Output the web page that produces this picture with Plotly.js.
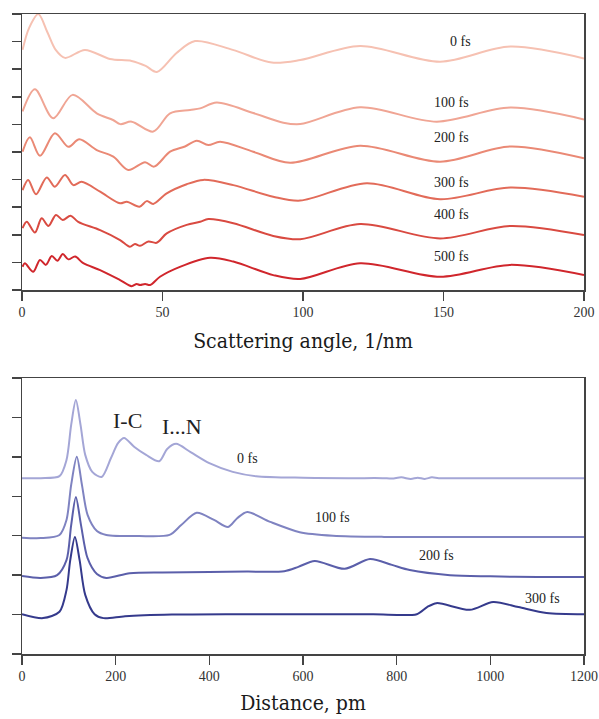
<!DOCTYPE html>
<html>
<head>
<meta charset="utf-8">
<script src="https://cdn.plot.ly/plotly-3.0.1.min.js"></script>
<style>html,body{margin:0;padding:0;background:#fff;}#chart{width:599px;height:719px;}</style>
</head>
<body>
<div id="chart"></div>
<script>
// ---------- Top panel: scattering signal vs angle ----------
const topLabels = ["0 fs", "100 fs", "200 fs", "300 fs", "400 fs", "500 fs"];
const topColors = ["#f6c1b2", "#f0a594", "#ea8975", "#e26b59", "#d94a41", "#d0262c"];

const q0 = [0.2, 2.5, 5.8, 9, 12, 15.3, 22.4, 31.3, 39, 44, 48, 55, 61.6, 75, 88.9, 99, 120.3, 148.8, 173.7, 200];
const s0 = [8.70, 9.49, 10.0, 9.35, 8.70, 8.41, 8.70, 8.37, 8.30, 8.12, 7.90, 8.59, 9.02, 8.70, 8.24, 8.33, 8.84, 8.27, 8.82, 8.39];

const q100 = [0.2, 4.6, 11.1, 18, 26.6, 32.4, 35, 39, 46.7, 52.7, 59.8, 63.4, 69.3, 82.3, 93, 99, 120.3, 147.6, 173.7, 200];
const s100 = [6.47, 7.27, 6.22, 7.07, 6.40, 6.16, 6.01, 6.10, 5.74, 6.40, 6.52, 6.58, 6.79, 6.41, 6.06, 6.01, 6.62, 6.10, 6.61, 6.18];

const q200 = [0.2, 2.8, 6.4, 11.7, 16.5, 20.4, 26.6, 32.5, 37.8, 43.8, 47, 52.7, 58, 62.2, 66.3, 70.5, 82.3, 95.4, 120.3, 148.8, 173.7, 200];
const s200 = [5.01, 5.53, 4.86, 5.68, 5.19, 5.46, 5.07, 4.83, 4.35, 4.63, 4.47, 5.01, 5.20, 5.41, 5.25, 5.37, 5.01, 4.61, 5.23, 4.65, 5.20, 4.77];

const q300 = [0.2, 2.2, 5, 8.8, 11.7, 15.3, 18.3, 21.2, 27.8, 34.9, 37.3, 41.8, 44.4, 46.7, 51.5, 58.6, 64.5, 75.2, 89.4, 99, 122.7, 148.8, 173.7, 200];
const s300 = [3.62, 3.99, 3.47, 4.08, 3.74, 4.17, 3.80, 3.92, 3.56, 3.14, 3.20, 3.02, 3.22, 3.12, 3.50, 3.83, 3.99, 3.80, 3.38, 3.24, 3.87, 3.29, 3.71, 3.38];

const q400 = [0.2, 1.7, 4.6, 7, 9.4, 12.1, 14.5, 17.3, 20, 27.8, 34.9, 38.4, 40.2, 42, 45, 47.9, 51.5, 58.6, 63.4, 66.3, 75.2, 89.4, 99, 120.3, 148.8, 173.7, 200];
const s400 = [2.24, 2.47, 2.08, 2.60, 2.32, 2.72, 2.54, 2.69, 2.47, 2.17, 1.81, 1.57, 1.67, 1.60, 1.76, 1.71, 2.05, 2.36, 2.47, 2.57, 2.42, 1.96, 1.84, 2.39, 1.87, 2.32, 1.99];

const q500 = [0.2, 1, 4, 6.4, 8.5, 10.6, 12.6, 14.5, 16.5, 18.9, 21.8, 27.8, 34.9, 39, 40.8, 42, 43.8, 45.6, 49.1, 56.2, 66.9, 75.2, 89.4, 99, 120.3, 148.8, 173.7, 200];
const s500 = [0.84, 0.97, 0.66, 1.09, 0.91, 1.23, 1.06, 1.30, 1.11, 1.21, 0.97, 0.72, 0.36, 0.14, 0.22, 0.18, 0.22, 0.18, 0.48, 0.84, 1.17, 1.03, 0.54, 0.40, 0.97, 0.48, 0.91, 0.54];

const topLabelX = [155.9, 153, 153, 153, 153, 153];
const topLabelY = [8.99, 6.81, 5.51, 3.91, 2.72, 1.23];

// ---------- Bottom panel: radial distribution vs distance ----------
const botLabels = ["0 fs", "100 fs", "200 fs", "300 fs"];
const botColors = ["#a4a6d6", "#7f83c1", "#5b5faa", "#353a8c"];

const r0 = [0, 40, 80, 95, 105, 115, 125, 135, 150, 170, 190, 205, 218, 240, 265, 293, 310, 329, 360, 400, 450, 500, 600, 700, 770, 790, 810, 830, 845, 860, 875, 890, 950, 1050, 1200];
const g0 = [4.46, 4.46, 4.51, 4.92, 5.81, 6.44, 5.81, 5.05, 4.62, 4.49, 4.97, 5.35, 5.48, 5.25, 5.05, 4.89, 5.20, 5.33, 5.12, 4.84, 4.62, 4.51, 4.47, 4.46, 4.46, 4.45, 4.48, 4.44, 4.47, 4.44, 4.48, 4.46, 4.46, 4.46, 4.46];

const r100 = [0, 40, 80, 95, 105, 117, 128, 140, 160, 180, 250, 315, 340, 373, 410, 440, 460, 481, 530, 593, 664, 773, 900, 1050, 1200];
const g100 = [2.95, 2.94, 3.02, 3.40, 4.29, 5.00, 4.29, 3.53, 3.12, 3.02, 2.99, 3.02, 3.27, 3.58, 3.40, 3.22, 3.45, 3.60, 3.35, 3.09, 3.00, 2.97, 2.97, 2.97, 2.97];

const r200 = [0, 40, 75, 95, 105, 115, 126, 140, 160, 180, 230, 300, 400, 480, 560, 590, 625, 689, 743, 790, 828, 914, 1000, 1100, 1200];
const g200 = [1.98, 1.93, 2.00, 2.38, 3.27, 3.98, 3.27, 2.43, 2.03, 1.93, 2.05, 2.07, 2.08, 2.09, 2.10, 2.21, 2.36, 2.16, 2.41, 2.26, 2.13, 2.00, 1.97, 1.95, 1.95];

const r300 = [0, 45, 80, 95, 103, 113, 123, 135, 155, 174, 220, 320, 450, 600, 750, 843, 865, 885, 956, 1006, 1060, 1120, 1200];
const g300 = [1.01, 0.91, 1.07, 1.62, 2.38, 2.97, 2.38, 1.50, 1.01, 0.91, 0.96, 1.00, 1.01, 1.01, 1.01, 1.01, 1.19, 1.29, 1.12, 1.32, 1.19, 1.04, 1.01];

const botLabelX = [482, 664, 886, 1112];
const botLabelY = [4.97, 3.45, 2.49, 1.42];
const peakLabels = ["I-C", "I...N"];
const peakLabelX = [226, 341];
const peakLabelY = [5.93, 5.76];

const topQ = [q0, q100, q200, q300, q400, q500];
const topS = [s0, s100, s200, s300, s400, s500];
const botR = [r0, r100, r200, r300];
const botG = [g0, g100, g200, g300];

const traces = [];
topQ.forEach((q, i) => traces.push({
  x: q, y: topS[i], type: 'scatter', mode: 'lines', xaxis: 'x', yaxis: 'y',
  line: {color: topColors[i], width: 2, shape: 'spline', smoothing: 0.9}, hoverinfo: 'skip'
}));
botR.forEach((r, i) => traces.push({
  x: r, y: botG[i], type: 'scatter', mode: 'lines', xaxis: 'x2', yaxis: 'y2',
  line: {color: botColors[i], width: 2, shape: 'spline', smoothing: 0.8}, hoverinfo: 'skip'
}));

const serif = 'Liberation Serif, DejaVu Serif, serif';
const annotations = [];
topLabels.forEach((t, i) => annotations.push({
  x: topLabelX[i], y: topLabelY[i], xref: 'x', yref: 'y', text: t, showarrow: false,
  font: {family: serif, size: 14, color: '#222'}
}));
botLabels.forEach((t, i) => annotations.push({
  x: botLabelX[i], y: botLabelY[i], xref: 'x2', yref: 'y2', text: t, showarrow: false,
  font: {family: serif, size: 14, color: '#222'}
}));
peakLabels.forEach((t, i) => annotations.push({
  x: peakLabelX[i], y: peakLabelY[i], xref: 'x2', yref: 'y2', text: t, showarrow: false,
  font: {family: serif, size: 22, color: '#222'}
}));

const axisCommon = {
  showline: true, linecolor: '#444', linewidth: 1.5, mirror: true,
  ticks: 'outside', ticklen: 9, tickwidth: 1.5, tickcolor: '#444',
  showgrid: false, zeroline: false
};
const tickFont = {family: serif, size: 14, color: '#333'};
const titleFont = {family: 'DejaVu Serif Condensed, DejaVu Serif, serif', size: 21, color: '#1a1a1a'};

const layout = {
  width: 599, height: 719,
  margin: {l: 22, r: 15, t: 14, b: 65},
  paper_bgcolor: '#fff', plot_bgcolor: '#fff',
  showlegend: false,
  xaxis: Object.assign({}, axisCommon, {
    domain: [0, 1], anchor: 'y', range: [0, 200], tickvals: [0, 50, 100, 150, 200],
    tickfont: tickFont, title: {text: 'Scattering angle, 1/nm', font: titleFont, standoff: 14}
  }),
  yaxis: Object.assign({}, axisCommon, {
    domain: [0.56875, 1], anchor: 'x', range: [0, 10], dtick: 1, tick0: 0, showticklabels: false
  }),
  xaxis2: Object.assign({}, axisCommon, {
    domain: [0, 1], anchor: 'y2', range: [0, 1200], tickvals: [0, 200, 400, 600, 800, 1000, 1200],
    tickfont: tickFont, title: {text: 'Distance, pm', font: titleFont, standoff: 12}
  }),
  yaxis2: Object.assign({}, axisCommon, {
    domain: [0, 0.43125], anchor: 'x2', range: [0, 7], dtick: 1, tick0: 0, showticklabels: false
  }),
  annotations: annotations
};

Plotly.newPlot('chart', traces, layout, {displayModeBar: false, staticPlot: true});
</script>
</body>
</html>
